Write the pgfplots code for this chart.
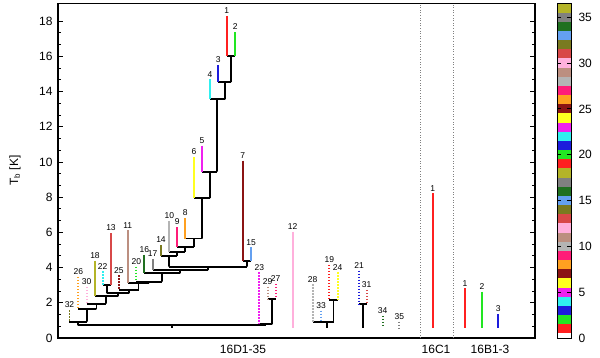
\documentclass[border=0pt]{standalone}
\usepackage{fontspec}
\setmainfont{Liberation Sans}
\usepackage{pgfplots}
\pgfplotsset{compat=1.18}
\definecolor{c1}{HTML}{FF2020}
\definecolor{c2}{HTML}{22E622}
\definecolor{c3}{HTML}{1C1CDC}
\definecolor{c4}{HTML}{30F0F0}
\definecolor{c5}{HTML}{F020F0}
\definecolor{c6}{HTML}{FFFF20}
\definecolor{c7}{HTML}{8B1414}
\definecolor{c8}{HTML}{FFA020}
\definecolor{c9}{HTML}{FF1C78}
\definecolor{c10}{HTML}{B4B4B4}
\definecolor{c11}{HTML}{BC8F80}
\definecolor{c12}{HTML}{FFB0DC}
\definecolor{c13}{HTML}{D84848}
\definecolor{c14}{HTML}{7A7A20}
\definecolor{c15}{HTML}{64A0F0}
\definecolor{c16}{HTML}{207020}
\definecolor{c17}{HTML}{808080}
\definecolor{c18}{HTML}{B4B428}
\tikzset{
  link/.style={black, line width=1.9pt, mark=none},
  ls/.style={line width=1.9pt, mark=none},
  ld/.style={line width=1.9pt, mark=none, dash pattern=on 1.5pt off 1.5pt},
  lab/.style={anchor=south, inner sep=0pt, yshift=2pt, font=\fontsize{8.5}{9}\selectfont},
}
% leaf: colour, style, x, top, bottom, label
\newcommand{\leaf}[6]{%
  \addplot[#2, #1] coordinates {(#3,#4) (#3,#5)};
  \node[lab] at (axis cs:#3,#4) {#6};}
% merge: left x, mid x, parent height, right x, height
\newcommand{\link}[5]{%
  \addplot[link] coordinates {(#1,#5) (#2,#5) (#2,#3) (#2,#5) (#4,#5)};}
\begin{document}
\begin{tikzpicture}[x=1pt,y=1pt]
\begin{axis}[
  at={(58pt,19pt)}, anchor=south west,
  width=477pt, height=334.5pt, scale only axis,
  xmin=58, xmax=535, ymin=0, ymax=19,
  xtick={243,436,490}, xticklabels={16D1-35,16C1,16B1-3},
  xtick style={draw=none},
  xticklabel style={yshift=-4pt},
  yticklabel style={xshift=-2pt},
  ytick={0,2,...,18}, minor y tick num=2,
  tick align=inside, major tick length=5pt, minor tick length=3pt,
  tick label style={font=\fontsize{12}{14}\selectfont},
  /pgf/number format/assume math mode=true,
  ylabel={T\textsubscript{b} [K]},
  ylabel style={at={(axis description cs:-0.09,0.5)}, anchor=center, font=\fontsize{12}{14}\selectfont},
  axis line style={line width=1.2pt},
  every tick/.style={black, line width=0.8pt},
  clip=false,
]
% separators between sources
\addplot[gray, line width=0.6pt, dotted] coordinates {(420,0) (420,19)};
\addplot[gray, line width=0.6pt, dotted] coordinates {(453,0) (453,19)};
% 16D1-35 tree
\link{226.7}{231}{14.53}{235.3}{16.04}
\link{218.3}{224.7}{13.56}{231}{14.53}
\link{210}{217.3}{9.45}{224.7}{13.56}
\link{202}{209.7}{7.94}{217.3}{9.45}
\link{194}{201.8}{5.65}{209.7}{7.94}
\link{185.3}{193.6}{5.17}{201.8}{5.65}
\link{177.3}{185.4}{4.89}{193.6}{5.17}
\link{169.3}{177.4}{4.66}{185.4}{4.89}
\link{161}{169.2}{4.05}{177.4}{4.66}
\link{242.7}{246.8}{4.05}{251}{4.39}
\link{169.2}{208}{3.86}{246.8}{4.05}
\link{152.7}{180.4}{3.67}{208}{3.86}
\link{144.3}{162.3}{3.2}{180.4}{3.67}
\link{136.3}{149.3}{3.12}{162.3}{3.2}
\link{127.7}{138.5}{2.73}{149.3}{3.12}
\link{118.8}{128.6}{2.54}{138.5}{2.73}
\link{102.7}{106.9}{2.54}{111}{3.0}
\link{106.9}{117.7}{2.37}{128.6}{2.54}
\link{95}{106.4}{1.95}{117.7}{2.37}
\link{86.7}{96.5}{1.63}{106.4}{1.95}
\link{78.3}{87.4}{0.93}{96.5}{1.63}
\link{69.5}{78.4}{0.72}{87.4}{0.93}
\link{267.7}{271.7}{0.78}{275.7}{2.23}
\link{259.3}{265.5}{0.72}{271.7}{0.78}
\link{78.4}{172}{0.57}{265.5}{0.72}
\link{329.3}{333.5}{0.89}{337.7}{2.16}
\link{312.7}{327}{0.57}{333.5}{0.89}
\link{359}{362.8}{0.57}{366.7}{1.91}
% leaves
\leaf{c1}{ls}{226.7}{18.3}{16.04}{1}
\leaf{c2}{ls}{235.3}{17.37}{16.04}{2}
\leaf{c3}{ls}{218.3}{15.5}{14.53}{3}
\leaf{c4}{ls}{210}{14.7}{13.56}{4}
\leaf{c5}{ls}{202}{10.93}{9.45}{5}
\leaf{c6}{ls}{194}{10.27}{7.94}{6}
\leaf{c7}{ls}{242.7}{10.07}{4.39}{7}
\leaf{c8}{ls}{185.3}{6.82}{5.65}{8}
\leaf{c9}{ls}{177.3}{6.29}{5.17}{9}
\leaf{c10}{ls}{169.3}{6.65}{4.89}{10}
\leaf{c11}{ls}{127.7}{6.12}{3.12}{11}
\leaf{c12}{ls}{292.7}{6.04}{0.57}{12}
\leaf{c13}{ls}{111}{5.95}{3.0}{13}
\leaf{c14}{ls}{161}{5.28}{4.66}{14}
\leaf{c15}{ls}{251}{5.15}{4.39}{15}
\leaf{c16}{ls}{144.3}{4.72}{3.67}{16}
\leaf{c17}{ls}{152.7}{4.5}{3.86}{17}
\leaf{c18}{ls}{95}{4.39}{2.37}{18}
\leaf{c1}{ld}{329.3}{4.15}{2.16}{19}
\leaf{c2}{ld}{136.3}{4.05}{3.2}{20}
\leaf{c3}{ld}{359}{3.83}{1.91}{21}
\leaf{c4}{ld}{102.7}{3.78}{3.0}{22}
\leaf{c5}{ld}{259.3}{3.73}{0.78}{23}
\leaf{c6}{ld}{337.7}{3.73}{2.16}{24}
\leaf{c7}{ld}{118.8}{3.56}{2.73}{25}
\leaf{c8}{ld}{78.3}{3.47}{1.63}{26}
\leaf{c9}{ld}{275.7}{3.07}{2.23}{27}
\leaf{c10}{ld}{312.7}{3.05}{0.89}{28}
\leaf{c11}{ld}{267.7}{2.92}{2.23}{29}
\leaf{c12}{ld}{86.7}{2.9}{1.95}{30}
\leaf{c13}{ld}{366.7}{2.73}{1.91}{31}
\leaf{c14}{ld}{69.5}{1.59}{0.93}{32}
\leaf{c15}{ld}{321}{1.55}{0.89}{33}
\leaf{c16}{ld}{382.7}{1.25}{0.57}{34}
\leaf{c17}{ld}{399.3}{0.93}{0.57}{35}
% 16C1
\leaf{c1}{ls}{432.7}{8.22}{0.57}{1}
% 16B1-3
\leaf{c1}{ls}{465}{2.82}{0.57}{1}
\leaf{c2}{ls}{482}{2.63}{0.57}{2}
\leaf{c3}{ls}{498.3}{1.35}{0.57}{3}
\end{axis}
% colour bar
\begin{axis}[
  at={(557pt,19pt)}, anchor=south west,
  width=14pt, height=334.5pt, scale only axis,
  xmin=0, xmax=1, ymin=0, ymax=36.5,
  xtick=\empty, ytick={0,5,...,35}, yticklabel pos=right,
  yticklabel style={xshift=4pt},
  tick align=inside, major tick length=4pt,
  tick label style={font=\fontsize{12}{14}\selectfont},
  /pgf/number format/assume math mode=true,
  axis line style={line width=1pt},
  every tick/.style={black, line width=0.8pt},
  axis on top,
]
\pgfplotsinvokeforeach{1,...,18}{
  \fill[c#1] (axis cs:0,#1-0.5) rectangle (axis cs:1,#1+0.5);
  \fill[c#1] (axis cs:0,#1+17.5) rectangle (axis cs:1,#1+18.5);
}
\end{axis}
\pgfresetboundingbox
\path[use as bounding box] (0,0) rectangle (600,357);
\end{tikzpicture}
\end{document}
